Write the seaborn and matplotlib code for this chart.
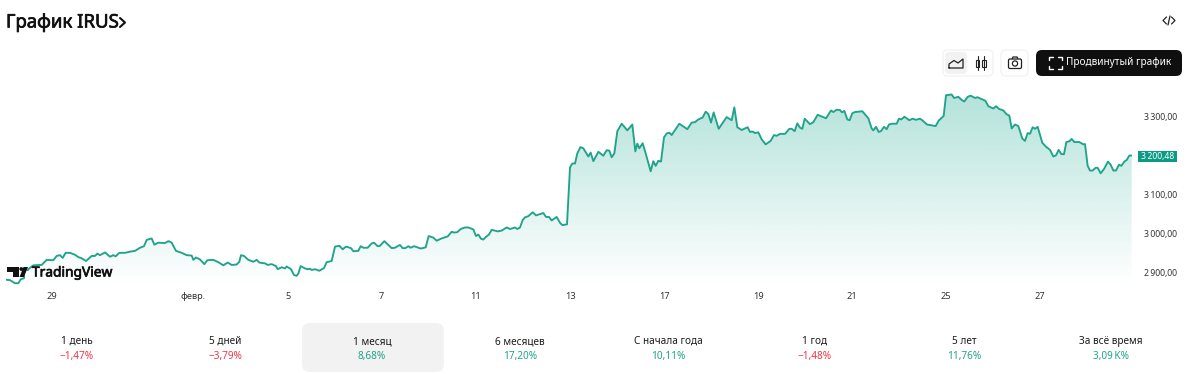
import numpy as np
import pandas as pd
import matplotlib
matplotlib.use("Agg")
import matplotlib.pyplot as plt
import matplotlib.patheffects as pe
import seaborn as sns
from matplotlib.patches import FancyBboxPatch, Polygon, Rectangle, Circle
from matplotlib.lines import Line2D

# bar number along the time axis
bars = [18,30,45,55,62,72,85,100,125,140,160,170,180,188,197,210,225,235,245,258,275,285,292,300,315,330,340,347,358,375,390,405,420,432,440,455,463,475,495,505,515,528,545,560,575,580,588,600,613,622,640,655,670,683,695,710,718,723,732,745,760,770,778,795,803,815,828,833,845,855,860,873,882,890,895,902,915,922,930,935,945,958,972,980,995,1005,1018,1028,1038,1053,1060,1075,1082,1090,1103,1115,1122,1133,1140,1153,1165,1175,1185,1197,
1200,1208,1216,1225,1232,1242,1262,1277,1286,1300,1310,1325,1343,1355,1362,1372,1382,1395,1405,1420,1428,1435,1443,1450,1458,1467,1475,1493,1505,1520,1530,1545,1552,1560,1568,1575,1585,1598,1608,1630,1638,1647,1655,1670,1680,1687,1701,1710,1717,1725,1732,1741,1750,1765,1772,1780,1795,1810,1820,1828,1835,1843,1852,1865,1882,1897,1906,1912,1918,1928,1937,1952,1960,1967,1975,1983,1992,2000,2008,2015,2038,2062,2075,2085,2095,2108,2117,2125,2133,2141,2156,2180,2195,2203,2212,2225,2243,2250,2258,2265,2275,2285,2297,2312,2322,2330,2340,2355,2368,2375,2384,2392,2400,
2407,2414,2430,2440,2453,2478,2493,2500,2510,2520,2526,2533,2542,2549,2557,2565,2587,2605,2615,2620,2628,2636,2643,2652,2660,2667,2675,2690,2697,2704,2713,2728,2738,2748,2760,2768,2781,2807,2816,2831,2838,2855,2862,2875,2885,2893,2903,2912,2925,2932,2956,2965,2980,2988,2997,3010,3020,3028,3035,3045,3055,3067,3075,3083,3090,3098,3105,3113,3127,3138,3150,3160,3168,3176,3184,3192,3199,3208,3215,3223,3238,3250,3255,3263,3270,3278,3287,3293,3302,3312,3324,3332,3340,3348,3357,3364,3373,3380,3388,3395]

prices = [2882,2881,2873,2873,2883,2886,2909,2919,2920,2933,2932,2943,2945,2938,2951,2951,2946,2940,2937,2930,2943,2943,2949,2945,2952,2941,2945,2942,2951,2951,2954,2956,2964,2968,2984,2988,2972,2977,2976,2981,2977,2956,2951,2945,2944,2933,2939,2934,2922,2932,2933,2927,2919,2926,2920,2921,2928,2945,2943,2933,2928,2933,2926,2924,2920,2922,2917,2909,2914,2911,2916,2909,2894,2892,2898,2917,2911,2909,2910,2907,2909,2905,2912,2927,2930,2967,2969,2960,2967,2963,2955,2956,2968,2964,2964,2975,2977,2968,2969,2981,2971,2963,2964,2970,
2971,2963,2963,2968,2964,2968,2962,2965,2994,2990,2982,2988,2993,3005,3003,3004,3012,3016,3016,3011,2994,2998,2987,2985,2992,2998,3010,3006,3008,3016,3012,3016,3012,3016,3035,3042,3045,3055,3047,3053,3043,3043,3034,3043,3028,3022,3024,3170,3180,3180,3206,3222,3219,3198,3208,3186,3210,3200,3214,3213,3196,3206,3263,3282,3265,3280,3211,3231,3219,3232,3206,3160,3186,3174,3187,3185,3247,3257,3259,3253,3282,3268,3285,3286,3293,3298,3313,3307,3285,3311,3269,3299,3291,3324,3273,3266,3273,3261,3262,3258,3260,3242,3229,3238,3253,3251,3256,3256,3269,3269,3263,3283,3272,
3269,3295,3281,3286,3305,3296,3316,3312,3318,3317,3311,3315,3293,3291,3309,3312,3314,3296,3270,3265,3274,3261,3263,3274,3268,3280,3282,3282,3295,3293,3300,3291,3295,3292,3295,3290,3280,3276,3290,3302,3355,3357,3348,3351,3343,3339,3351,3354,3348,3350,3341,3327,3321,3327,3320,3316,3306,3303,3270,3280,3276,3244,3238,3258,3256,3273,3269,3274,3233,3223,3215,3198,3201,3215,3204,3204,3235,3237,3243,3235,3235,3229,3230,3174,3162,3162,3169,3169,3155,3166,3185,3177,3162,3162,3177,3174,3185,3189,3200.48,3200.48]

x_tick_bars = [156,579,864,1143,1428,1710,1992,2274,2556,2838,3120]
x_tick_labels = ["29","февр.","5","7","11","13","17","19","21","25","27"]
y_ticks = [2900,3000,3100,3200,3300]
y_tick_labels = ["2\u2009900,00","3\u2009000,00","3\u2009100,00","","3\u2009300,00"]
last_price_label = "3\u2009200,48"
periods = ["1 день","5 дней","1 месяц","6 месяцев","С начала года","1 год","5 лет","За всё время"]
changes = ["−1,47%","−3,79%","8,68%","17,20%","10,11%","−1,48%","11,76%","3,09\u2009K%"]
negative = [True,True,False,False,False,True,False,False]

GREEN = "#1fa38b"
RED = "#f23645"
TXT = "#1a1a1a"
W, H = 1200, 374

sns.set_theme(style="white")
plt.rcParams["font.family"] = ["Noto Sans", "DejaVu Sans"]
fig = plt.figure(figsize=(W/100, H/100), dpi=100, facecolor="white")

# chart axes: px 6..1132 horizontally, px 85..285 vertically
ax = fig.add_axes([6/W, 1-285/H, (1132-6)/W, 200/H])
ax.set_xlim(18, 3396)
ax.set_ylim(2868.5, 3381.3)

df = pd.DataFrame({"bar": bars, "price": prices})
grad = np.zeros((256, 2, 4))
grad[..., :3] = matplotlib.colors.to_rgb("#22ab94")
grad[..., 3] = np.linspace(0.34, 0.0, 256)[:, None]
im = ax.imshow(grad, extent=(18, 3396, 2868.5, 3357), origin="upper", aspect="auto", zorder=1)
poly = ax.fill_between(df["bar"], df["price"], 2868.5, color="none", lw=0)
im.set_clip_path(poly.get_paths()[0], transform=ax.transData)
ax.set_xlim(18, 3396)
ax.set_ylim(2868.5, 3381.3)
sns.lineplot(data=df, x="bar", y="price", sort=False, estimator=None, color=GREEN, lw=1.35, ax=ax, zorder=3)

ax.set_xlabel("")
ax.set_ylabel("")
ax.set_xticks(x_tick_bars)
ax.set_xticklabels(x_tick_labels, fontsize=6.6, color="#333333")
ax.yaxis.tick_right()
ax.set_yticks(y_ticks)
ax.set_yticklabels(y_tick_labels, fontsize=6.2, color="#333333")
ax.tick_params(axis="x", length=0, pad=5)
ax.tick_params(axis="y", length=0, pad=8.5)
for s in ax.spines.values():
    s.set_visible(False)
ax.patch.set_alpha(0)
ax.grid(False)

# page furniture in pixel coordinates
ui = fig.add_axes([0, 0, 1, 1], zorder=5)
ui.set_xlim(0, W)
ui.set_ylim(H, 0)
ui.axis("off")
ui.patch.set_alpha(0)

heavy = [pe.withStroke(linewidth=0.5, foreground="#111111")]
ui.text(6, 27.5, "График IRUS", fontsize=13.4, color="#111111", va="baseline", ha="left", path_effects=heavy)
ui.add_line(Line2D([120, 125, 120], [18, 22.5, 27], color="#111111", lw=1.5))
ui.add_line(Line2D([1166.5, 1163, 1166.5], [17, 20.5, 24], color="#222222", lw=0.9))
ui.add_line(Line2D([1171.5, 1175, 1171.5], [17, 20.5, 24], color="#222222", lw=0.9))
ui.add_line(Line2D([1168, 1170], [25, 16], color="#222222", lw=0.9))

# price tag
ui.add_patch(Rectangle((1138, 150.5), 39, 11.5, fc="#0b9a83", ec="none"))
ui.text(1157.5, 156, last_price_label, fontsize=6.2, color="white", ha="center", va="center")

# buttons
def rbox(x0, y0, x1, y1, r, fc, ec="none", lw=0.8):
    ui.add_patch(FancyBboxPatch((x0+r, y0+r), x1-x0-2*r, y1-y0-2*r,
                                boxstyle=f"round,pad={r},rounding_size={r}", fc=fc, ec=ec, lw=lw))

rbox(943, 50, 993, 76, 5, "white", "#f0f0f0")
rbox(945, 52, 967, 74, 4, "#f2f2f2")
rbox(1001, 50, 1028, 76, 5, "white", "#f0f0f0")
rbox(1036, 50, 1182, 76, 6, "#0f0f0f")
ui.add_line(Line2D([949, 949, 954, 958, 963, 963, 949], [68, 64, 60.5, 63, 59, 68, 68], color="#222222", lw=0.9))
for cx in (977.5, 984):
    ui.add_line(Line2D([cx, cx], [56, 70], color="#222222", lw=0.8))
    ui.add_patch(Rectangle((cx-1.6, 59.5), 3.2, 7, fc="white", ec="#222222", lw=0.8))
ui.add_patch(FancyBboxPatch((1008.5, 59), 13, 9.5, boxstyle="round,pad=0,rounding_size=1.5", fc="none", ec="#222222", lw=0.9))
ui.add_patch(Polygon([(1012, 59), (1013, 57), (1017, 57), (1018, 59)], closed=False, fc="none", ec="#222222", lw=0.9))
ui.add_patch(Circle((1015, 63.5), 2.6, fc="none", ec="#222222", lw=0.9))
for xs, ys in ([[1049, 1049, 1053], [60, 57, 57]], [[1058, 1062, 1062], [57, 57, 60]],
               [[1049, 1049, 1053], [66, 69, 69]], [[1058, 1062, 1062], [69, 69, 66]]):
    ui.add_line(Line2D(xs, ys, color="white", lw=1.0))
ui.text(1119, 62.5, "Продвинутый график", fontsize=7.2, color="white", ha="center", va="center")

# TradingView logo with its white backing
ui.add_patch(Rectangle((24.5, 271), 8, 12, fc="white", ec="none"))
LOGO = "#111111"
ui.add_patch(Polygon([(7, 267), (19, 267), (19, 277), (12.5, 277), (12.5, 272), (7, 272)], fc=LOGO, ec="none"))
ui.add_patch(Circle((21.3, 269), 1.9, fc=LOGO, ec="none"))
ui.add_patch(Polygon([(23.5, 267), (28, 267), (24, 277), (19.5, 277)], fc=LOGO, ec="none"))
ui.text(32, 276.5, "TradingView", fontsize=9.9, color="#111111", va="baseline", ha="left", path_effects=heavy)

# period tabs
rbox(302, 323, 444, 372, 8, "#f2f2f2")
centres = [77, 225, 372, 520, 668, 815, 964, 1111]
for cx, p, c, neg in zip(centres, periods, changes, negative):
    ui.text(cx, 344, p, fontsize=7.2, color=TXT, ha="center", va="baseline")
    ui.text(cx, 359, c, fontsize=7.2, color=RED if neg else GREEN, ha="center", va="baseline")

fig.savefig("out.png", dpi=100, facecolor="white")
